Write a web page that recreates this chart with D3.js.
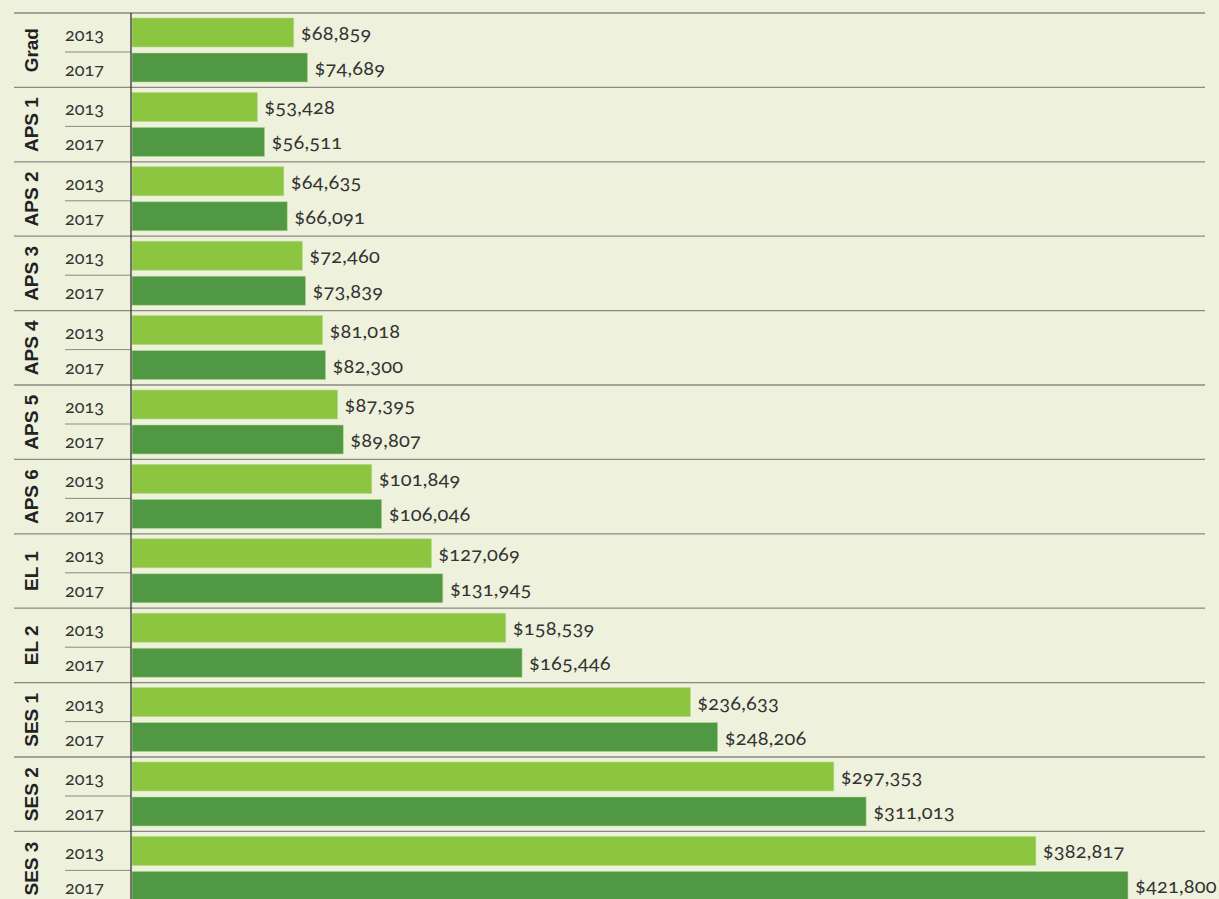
<!DOCTYPE html>
<html>
<head>
<meta charset="utf-8">
<script src="https://cdn.jsdelivr.net/npm/d3@7"></script>
<style>
  body { margin: 0; background: #eef1dc; }
  svg { display: block; }
  .val, .yr { font-family: Lato, "Open Sans", sans-serif; font-variant-numeric: oldstyle-nums; fill: #333; }
  .grp { font-family: "Liberation Sans", Arial, sans-serif; font-weight: bold; fill: #222; }
</style>
</head>
<body>
<svg width="1219" height="899"></svg>
<script>
// 等級ごとの給与（2013 / 2017）
var groups = ["Grad", "APS 1", "APS 2", "APS 3", "APS 4", "APS 5", "APS 6", "EL 1", "EL 2", "SES 1", "SES 2", "SES 3"];
var years = ["2013", "2017"];
var pay2013 = [68859, 53428, 64635, 72460, 81018, 87395, 101849, 127069, 158539, 236633, 297353, 382817];
var pay2017 = [74689, 56511, 66091, 73839, 82300, 89807, 106046, 131945, 165446, 248206, 311013, 421800];

var colors = {"2013": "#8cc53f", "2017": "#519845"};

var svg = d3.select("svg");
var marginLeft = 131, marginTop = 13, groupH = 74.4;

var data = [];
groups.forEach(function(g, i){
  data.push({group: g, year: "2013", value: pay2013[i]});
  data.push({group: g, year: "2017", value: pay2017[i]});
});

var y = d3.scaleBand()
  .domain(groups)
  .range([marginTop, marginTop + groups.length * groupH]);

// グループ内の2本のバー
var yInner = d3.scaleBand()
  .domain(years)
  .range([5, 69])
  .paddingInner(6 / 35);

var x = d3.scaleLinear()
  .domain([0, 421800])
  .range([marginLeft, 1128]);

var fmt = d3.format("$,");

// 区切り線
svg.append("g").selectAll("line")
  .data(groups)
  .enter().append("line")
  .attr("x1", 14).attr("x2", 1205)
  .attr("y1", function(d){ return y(d); })
  .attr("y2", function(d){ return y(d); })
  .attr("stroke", "#8a8a80").attr("stroke-width", 1.3);

svg.append("g").selectAll("line")
  .data(groups)
  .enter().append("line")
  .attr("x1", 65).attr("x2", marginLeft)
  .attr("y1", function(d){ return y(d) + yInner("2017") - 1; })
  .attr("y2", function(d){ return y(d) + yInner("2017") - 1; })
  .attr("stroke", "#8a8a80").attr("stroke-width", 1);

// バー
var bars = svg.append("g").selectAll("g")
  .data(data)
  .enter().append("g")
  .attr("transform", function(d){ return "translate(0," + (y(d.group) + yInner(d.year)) + ")"; });

bars.append("rect")
  .attr("x", x(0) + 1)
  .attr("y", 0)
  .attr("width", function(d){ return x(d.value) - x(0) - 1; })
  .attr("height", yInner.bandwidth())
  .attr("fill", function(d){ return colors[d.year]; })
  .attr("stroke", "#b5d98a").attr("stroke-width", 0.6);

bars.append("text")
  .attr("class", "val")
  .attr("x", function(d){ return x(d.value) + 7; })
  .attr("y", 22)
  .attr("font-size", "20px")
  .attr("letter-spacing", "0.2px")
  .text(function(d){ return fmt(d.value); });

bars.append("text")
  .attr("class", "yr")
  .attr("x", 65)
  .attr("y", 23)
  .attr("font-size", "18px")
  .text(function(d){ return d.year; });

// 等級ラベル
svg.append("g").selectAll("text")
  .data(groups)
  .enter().append("text")
  .attr("class", "grp")
  .attr("transform", function(d){ return "translate(38," + (y(d) + y.bandwidth() / 2) + ") rotate(-90)"; })
  .attr("text-anchor", "middle")
  .attr("font-size", "19px")
  .text(function(d){ return d; });

// 縦軸
svg.append("line")
  .attr("x1", marginLeft).attr("x2", marginLeft)
  .attr("y1", marginTop).attr("y2", 899)
  .attr("stroke", "#333").attr("stroke-width", 1.3);
</script>
</body>
</html>
